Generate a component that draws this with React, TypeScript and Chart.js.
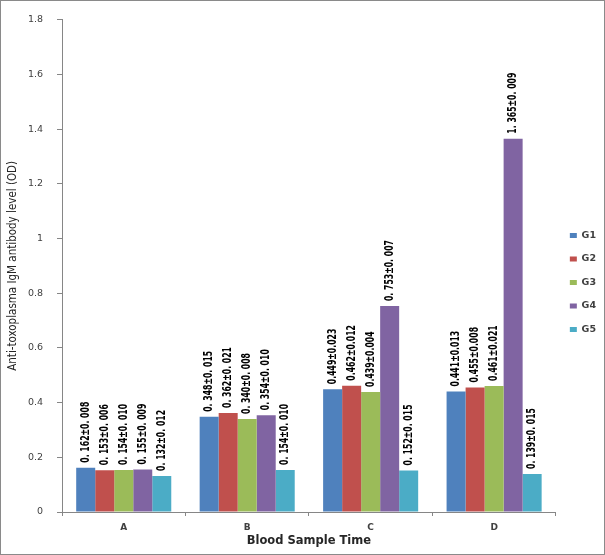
import React, { useEffect, useRef } from "react";
import { Chart, registerables } from "chart.js";

Chart.register(...registerables);

const categories = ["A", "B", "C", "D"];
const seriesNames = ["G1", "G2", "G3", "G4", "G5"];
const g1 = [0.162, 0.348, 0.449, 0.441];
const g2 = [0.153, 0.362, 0.462, 0.455];
const g3 = [0.154, 0.34, 0.439, 0.461];
const g4 = [0.155, 0.354, 0.753, 1.365];
const g5 = [0.132, 0.154, 0.152, 0.139];
const g1Labels = ["0. 162±0. 008", "0. 348±0. 015", "0.449±0.023", "0.441±0.013"];
const g2Labels = ["0. 153±0. 006", "0. 362±0. 021", "0.462±0.012", "0.455±0.008"];
const g3Labels = ["0. 154±0. 010", "0. 340±0. 008", "0.439±0.004", "0.461±0.021"];
const g4Labels = ["0. 155±0. 009", "0. 354±0. 010", "0. 753±0. 007", "1. 365±0. 009"];
const g5Labels = ["0. 132±0. 012", "0. 154±0. 010", "0. 152±0. 015", "0. 139±0. 015"];
const colors = ["#4F81BD", "#C0504D", "#9BBB59", "#8064A2", "#4BACC6"];

const allValues = [g1, g2, g3, g4, g5];
const allLabels = [g1Labels, g2Labels, g3Labels, g4Labels, g5Labels];

const labelPlugin = {
  id: "barLabels",
  afterDatasetsDraw(chart: any) {
    const ctx = chart.ctx;
    ctx.save();
    ctx.font = "bold 12px 'DejaVu Sans Condensed', 'DejaVu Sans', sans-serif";
    ctx.fillStyle = "#000";
    ctx.textAlign = "left";
    ctx.textBaseline = "middle";
    const ref = ctx.measureText("0. 162±0. 008").width;
    const k = 61 / ref;
    chart.data.datasets.forEach((ds: any, di: number) => {
      const meta = chart.getDatasetMeta(di);
      meta.data.forEach((el: any, i: number) => {
        const txt = ds.valueLabels[i];
        ctx.save();
        ctx.translate(el.x, el.y - 5);
        ctx.rotate(-Math.PI / 2);
        ctx.scale(k, 1);
        ctx.fillText(txt, 0, 0);
        ctx.restore();
      });
    });
    ctx.restore();
  },
};

export default function App() {
  const ref = useRef<HTMLCanvasElement>(null);
  useEffect(() => {
    if (!ref.current) return;
    const chart = new Chart(ref.current, {
      type: "bar",
      data: {
        labels: categories,
        datasets: seriesNames.map((n, i) => ({
          label: n,
          data: allValues[i],
          backgroundColor: colors[i],
          borderWidth: 0,
          categoryPercentage: 0.77,
          barPercentage: 1,
          valueLabels: allLabels[i],
        })) as any,
      },
      options: {
        animation: false,
        responsive: false,
        devicePixelRatio: 1,
        layout: { padding: { top: 10, right: -1, left: 0, bottom: 0 } },
        plugins: {
          legend: {
            position: "right",
            labels: {
              boxWidth: 7,
              boxHeight: 5,
              padding: 14,
              color: "#404040",
              font: { family: "'DejaVu Sans', sans-serif", size: 9.5, weight: "bold" },
            },
          },
          tooltip: { enabled: false },
        },
        scales: {
          y: {
            min: 0,
            max: 1.8,
            ticks: {
              stepSize: 0.2,
              padding: 14,
              color: "#404040",
              font: { family: "'DejaVu Sans', sans-serif", size: 9.5 },
              callback: (v: any) => String(Math.round(Number(v) * 10) / 10),
            },
            grid: { drawOnChartArea: false, drawTicks: true, tickLength: 5, color: "#868686" },
            border: { color: "#868686" },
            title: {
              display: true,
              text: "Anti-toxoplasma IgM antibody level (OD)",
              color: "#262626",
              font: { family: "'DejaVu Sans Condensed', 'DejaVu Sans', sans-serif", size: 11.5 },
              padding: { top: 6, bottom: 0 },
            },
            afterFit(scale: any) {
              scale.width = 62;
            },
          },
          x: {
            ticks: {
              padding: 6,
              color: "#404040",
              font: { family: "'DejaVu Sans', sans-serif", size: 9, weight: "bold" },
            },
            grid: { drawOnChartArea: false, drawTicks: true, tickLength: 4, color: "#868686", offset: true },
            border: { color: "#868686" },
            title: {
              display: true,
              text: "Blood Sample Time",
              color: "#262626",
              font: { family: "'DejaVu Sans', sans-serif", size: 11.5, weight: "bold" },
              padding: { top: 0, bottom: 7 },
            },
            afterFit(scale: any) {
              scale.height = 43;
            },
          },
        },
      } as any,
      plugins: [labelPlugin],
    });
    return () => chart.destroy();
  }, []);
  return (
    <div style={{ position: "fixed", left: 0, top: 0, width: 605, height: 555, background: "#fff" }}>
      <canvas ref={ref} width={605} height={555} style={{ position: "absolute", left: 0, top: 0 }} />
      <div
        style={{
          position: "absolute",
          left: 0,
          top: 0,
          width: 605,
          height: 555,
          boxSizing: "border-box",
          border: "1px solid #8a8a8a",
          pointerEvents: "none",
        }}
      />
    </div>
  );
}
